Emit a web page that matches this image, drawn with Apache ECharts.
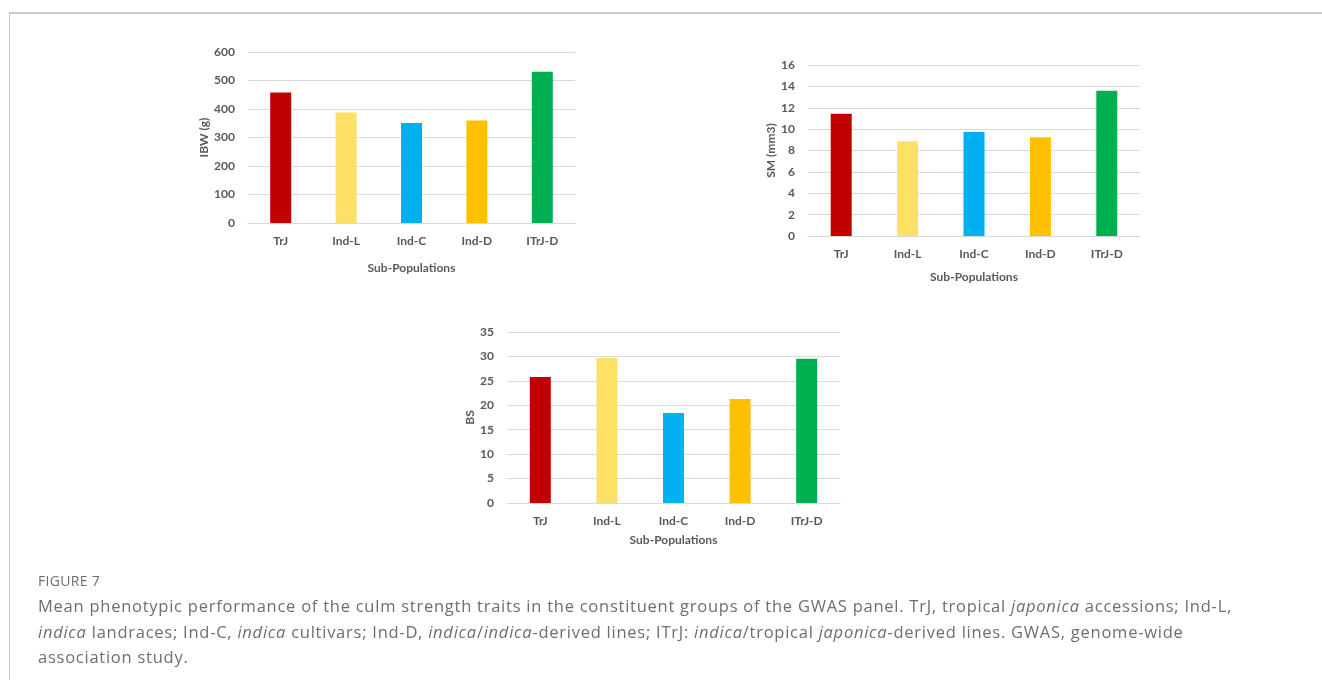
<!DOCTYPE html>
<html>
<head>
<meta charset="utf-8">
<script src="https://cdn.jsdelivr.net/npm/echarts@6/dist/echarts.min.js"></script>
<style>
  html, body { margin: 0; padding: 0; background: #fff; }
  #frame { position: absolute; left: 9px; top: 12px; width: 1313px; height: 668px;
           border-top: 2px solid #cacaca; border-left: 1px solid #cacaca; box-sizing: border-box; }
  #chart { position: absolute; left: 0; top: 0; width: 1322px; height: 680px; }
  #caption { position: absolute; left: 38px; top: 568px; width: 1280px;
             font-family: "Open Sans", "Noto Sans", sans-serif; color: #6e6e6e; }
  #caption .fig { font-size: 14px; letter-spacing: 0.3px; line-height: 25px; }
  #caption .txt { font-size: 16.5px; letter-spacing: 0.75px; line-height: 25.5px; white-space: nowrap; }
</style>
</head>
<body>
<div id="frame"></div>
<div id="chart"></div>
<div id="caption">
  <div class="fig">FIGURE 7</div>
  <div class="txt">Mean phenotypic performance of the culm strength traits in the constituent groups of the GWAS panel. TrJ, tropical <i>japonica</i> accessions; Ind-L,<br><i>indica</i> landraces; Ind-C, <i>indica</i> cultivars; Ind-D, <i>indica</i>/<i>indica</i>-derived lines; ITrJ: <i>indica</i>/tropical <i>japonica</i>-derived lines. GWAS, genome-wide<br>association study.</div>
</div>
<script>
// Sub-population groups and their mean trait values
const groups = ['TrJ', 'Ind-L', 'Ind-C', 'Ind-D', 'ITrJ-D'];
const groupColors = ['#C00000', '#FFE066', '#00B0F0', '#FFC000', '#00B050'];
const ibwValues = [458, 388, 351, 360, 531];        // IBW (g)
const smValues = [11.45, 8.86, 9.73, 9.23, 13.6];   // SM (mm3)
const bsValues = [25.8, 29.7, 18.4, 21.3, 29.5];    // BS

const xTitle = 'Sub-Populations';
const labelFont = { fontFamily: 'Lato, "Open Sans", sans-serif', fontWeight: 'bold', fontSize: 12, color: '#595959' };

const panels = [
  { name: 'IBW (g)', data: ibwValues, max: 600, interval: 100,
    grid: { left: 248, top: 52, width: 327, height: 171 }, xGap: 39, yGap: 36 },
  { name: 'SM (mm3)', data: smValues, max: 16, interval: 2,
    grid: { left: 808, top: 65, width: 332, height: 171 }, xGap: 35, yGap: 29 },
  { name: 'BS', data: bsValues, max: 35, interval: 5,
    grid: { left: 507, top: 332, width: 333, height: 171 }, xGap: 31, yGap: 30 }
];

const option = {
  animation: false,
  grid: panels.map(p => Object.assign({ containLabel: false }, p.grid)),
  xAxis: panels.map((p, i) => ({
    type: 'category', gridIndex: i, data: groups,
    name: xTitle, nameLocation: 'middle', nameGap: p.xGap, nameTextStyle: labelFont,
    axisLine: { lineStyle: { color: '#d9d9d9', width: 1 } },
    axisTick: { show: false },
    axisLabel: Object.assign({ margin: 12 }, labelFont)
  })),
  yAxis: panels.map((p, i) => ({
    type: 'value', gridIndex: i, min: 0, max: p.max, interval: p.interval,
    name: p.name, nameLocation: 'middle', nameGap: p.yGap, nameRotate: 90, nameTextStyle: labelFont,
    axisLine: { show: false }, axisTick: { show: false },
    splitLine: { lineStyle: { color: '#d9d9d9', width: 1 } },
    axisLabel: Object.assign({ margin: 13 }, labelFont)
  })),
  series: panels.map((p, i) => ({
    type: 'bar', xAxisIndex: i, yAxisIndex: i, barWidth: 21,
    data: p.data.map((v, k) => ({ value: v, itemStyle: { color: groupColors[k] } }))
  }))
};

const chart = echarts.init(document.getElementById('chart'), null, { renderer: 'canvas' });
chart.setOption(option);
</script>
</body>
</html>
